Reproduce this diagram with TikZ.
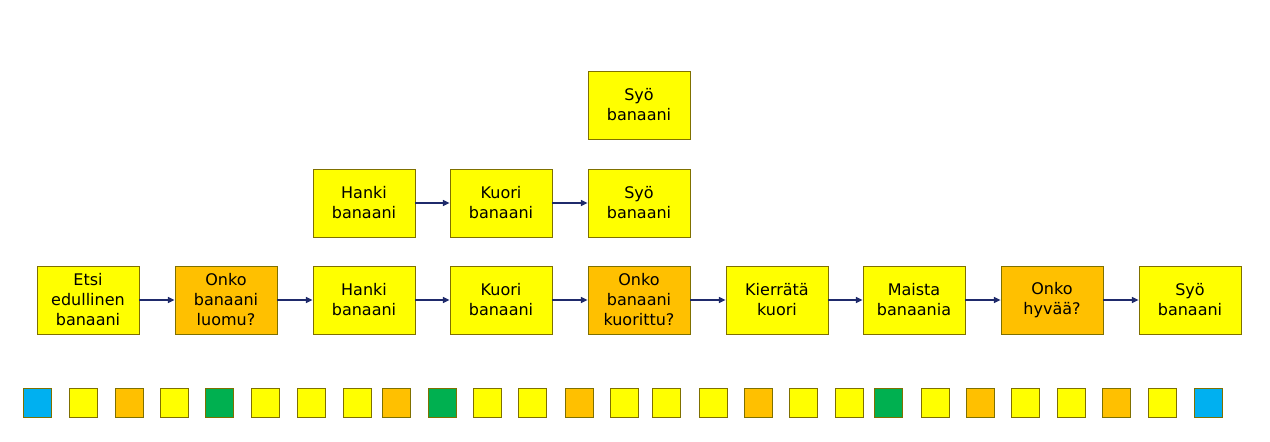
\documentclass[tikz,border=0pt]{standalone}
\usepackage{fontspec}
\setmainfont{DejaVu Sans}
\usetikzlibrary{arrows.meta}
\definecolor{yel}{HTML}{FFFF00}
\definecolor{org}{HTML}{FFC000}
\definecolor{grn}{HTML}{00B050}
\definecolor{blu}{HTML}{00B0F0}
\definecolor{bord}{HTML}{7F7000}
\definecolor{arr}{HTML}{1F2A6B}
\begin{document}
\begin{tikzpicture}[x=0.75pt,y=-0.75pt,
  box/.style={draw=bord,line width=0.6pt,minimum width=76.5pt,minimum height=51pt,align=center,inner sep=1pt,font=\fontsize{12}{15}\selectfont},
  sq/.style={draw=bord,line width=0.8pt,minimum size=21.5pt,inner sep=0pt},
  ar/.style={draw=arr,line width=1pt,-{Triangle[length=5pt,width=4.5pt]}}]
\useasboundingbox (0,0) rectangle (1270,442);
\node[box,fill=yel] (a1) at (88,300) {Etsi\\edullinen\\banaani};
\node[box,fill=org] (a2) at (226,300) {Onko\\banaani\\luomu?};
\node[box,fill=yel] (a3) at (364,300) {Hanki\\banaani};
\node[box,fill=yel] (a4) at (501,300) {Kuori\\banaani};
\node[box,fill=org] (a5) at (639,300) {Onko\\banaani\\kuorittu?};
\node[box,fill=yel] (a6) at (777,300) {Kierrätä\\kuori};
\node[box,fill=yel] (a7) at (914,300) {Maista\\banaania};
\node[box,fill=org] (a8) at (1052,300) {Onko\\hyvää?};
\node[box,fill=yel] (a9) at (1190,300) {Syö\\banaani};
\foreach \i [count=\j from 2] in {1,...,8} \draw[ar] (a\i) -- (a\j);
\node[box,fill=yel] (b1) at (364,203) {Hanki\\banaani};
\node[box,fill=yel] (b2) at (501,203) {Kuori\\banaani};
\node[box,fill=yel] (b3) at (639,203) {Syö\\banaani};
\draw[ar] (b1) -- (b2);
\draw[ar] (b2) -- (b3);
\node[box,fill=yel] (c1) at (639,105) {Syö\\banaani};
\foreach \x/\c [count=\k] in {23/blu,69/yel,115/org,160/yel,205/grn,251/yel,297/yel,343/yel,382/org,428/grn,473/yel,518/yel,565/org,610/yel,652/yel,699/yel,744/org,789/yel,835/yel,874/grn,921/yel,966/org,1011/yel,1057/yel,1102/org,1148/yel,1194/blu}
  \node[sq,fill=\c] (s\k) at (\x+14.5,403) {};
\end{tikzpicture}
\end{document}
